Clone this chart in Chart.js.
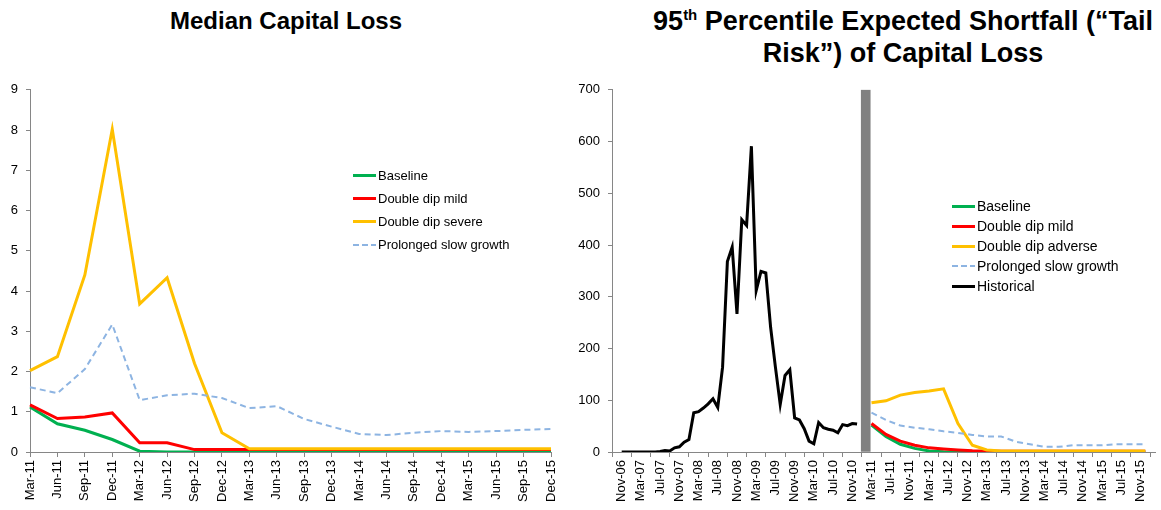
<!DOCTYPE html>
<html>
<head>
<meta charset="utf-8">
<script src="https://cdn.jsdelivr.net/npm/chart.js@4.4.1/dist/chart.umd.min.js"></script>
<style>
  body { margin: 0; background: #fff; font-family: "Liberation Sans", Arial, sans-serif; }
  #wrap { position: relative; width: 1161px; height: 510px; overflow: hidden; }
  canvas { position: absolute; top: 74px; }
  .title { position: absolute; font-weight: bold; text-align: center; color: #000; white-space: nowrap; }
  .title sup { font-size: 15px; line-height: 0; vertical-align: 10px; }
  .legend { position: absolute; color: #000; }
  .legend .row { display: flex; align-items: center; white-space: nowrap; }
  .legend .sw { display: inline-block; width: 23px; height: 3px; margin-right: 2px; }
</style>
</head>
<body>
<div id="wrap">
  <div class="title" style="left:86px; width:400px; top:5px; font-size:24px; line-height:31px;">Median Capital Loss</div>
  <div class="title" style="left:603px; width:600px; top:6px; font-size:27px; line-height:31.5px;">95<sup>th</sup> Percentile Expected Shortfall (“Tail<br>Risk”) of Capital Loss</div>
  <canvas id="left-chart" width="575" height="436" style="left:0;"></canvas>
  <canvas id="right-chart" width="586" height="436" style="left:575px;"></canvas>
  <div class="legend" id="left-legend" style="left:353px; top:164px; font-size:13px;"></div>
  <div class="legend" id="right-legend" style="left:952px; top:196px; font-size:14px;"></div>
</div>
<script>
// Left chart: median capital loss, quarterly
const quarters = ['Mar-11','Jun-11','Sep-11','Dec-11','Mar-12','Jun-12','Sep-12','Dec-12','Mar-13','Jun-13',
  'Sep-13','Dec-13','Mar-14','Jun-14','Sep-14','Dec-14','Mar-15','Jun-15','Sep-15','Dec-15'];
const medBaseline = [1.12, 0.70, 0.54, 0.31, 0.02, 0, 0, 0, 0, 0, 0, 0, 0, 0, 0, 0, 0, 0, 0, 0];
const medMild = [1.17, 0.83, 0.87, 0.97, 0.23, 0.23, 0.06, 0.06, 0.06, 0.06, 0.06, 0.06, 0.06, 0.06, 0.06, 0.06, 0.06, 0.06, 0.06, 0.06];
const medSevere = [2.02, 2.37, 4.40, 8.02, 3.68, 4.33, 2.20, 0.48, 0.08, 0.08, 0.08, 0.08, 0.08, 0.08, 0.08, 0.08, 0.08, 0.08, 0.08, 0.08];
const medSlow = [1.61, 1.46, 2.06, 3.17, 1.29, 1.41, 1.45, 1.34, 1.09, 1.14, 0.82, 0.63, 0.45, 0.42, 0.48, 0.52, 0.50, 0.52, 0.55, 0.57];

// Right chart: tail risk. Months counted from Nov-06 (0)
const monthTicks = ['Nov-06','Mar-07','Jul-07','Nov-07','Mar-08','Jul-08','Nov-08','Mar-09','Jul-09','Nov-09',
  'Mar-10','Jul-10','Nov-10','Mar-11','Jul-11','Nov-11','Mar-12','Jul-12','Nov-12','Mar-13','Jul-13','Nov-13',
  'Mar-14','Jul-14','Nov-14','Mar-15','Jul-15','Nov-15'];
const historical = [0, 0, 0, 0, 0, 0, 0, 0, 1, 3, 2, 8, 10, 19, 24, 76, 78, 85, 93, 103,
  86, 164, 368, 396, 267, 449, 438, 591, 312, 349, 346, 241, 164, 92, 148, 159, 66, 62, 45, 21,
  16, 57, 47, 44, 42, 37, 53, 51, 55, 54];
const tailBaseline = [52, 30, 15, 7, 2, 0.6, 0, 0, 0, 0, 0, 0, 0, 0, 0, 0, 0, 0, 0, 0];
const tailMild = [55, 34, 21, 13, 8, 6, 4, 2.5, 2, 1.5, 1.5, 1.5, 1.5, 1.5, 1.5, 1.5, 1.5, 1.5, 1.5, 1.5];
const tailAdverse = [95, 99, 110, 115, 118, 122, 55, 13, 4, 2, 2, 2, 2, 2, 2, 2, 2, 2, 2, 2];
const tailSlow = [76, 62, 51, 47, 44, 40, 37, 33, 30, 30, 20, 15, 10, 10, 13, 13, 13, 15, 15, 15];
const forecastStart = 52;   // Mar-11
const dividerMonth = 50.8;
const dividerHeight = 700;

const FONT = '"Liberation Sans", Arial, sans-serif';
const AXIS = '#868686';

function makeSeries(label, color, width, dashed) {
  return { label: label, color: color, width: width, dashed: dashed };
}

const leftSeries = [
  makeSeries('Baseline', '#00B050', 3, false),
  makeSeries('Double dip mild', '#FF0000', 3, false),
  makeSeries('Double dip severe', '#FFC000', 3, false),
  makeSeries('Prolonged slow growth', '#8DB4E2', 2, true)
];
const rightSeries = [
  makeSeries('Baseline', '#00B050', 3, false),
  makeSeries('Double dip mild', '#FF0000', 3, false),
  makeSeries('Double dip adverse', '#FFC000', 3, false),
  makeSeries('Prolonged slow growth', '#8DB4E2', 2, true),
  makeSeries('Historical', '#000000', 3, false)
];

function lineDataset(s, data, order) {
  return {
    label: s.label,
    data: data,
    borderColor: s.color,
    backgroundColor: s.color,
    borderWidth: s.width,
    borderDash: s.dashed ? [6, 4] : [],
    pointRadius: 0,
    tension: 0,
    fill: false,
    order: order
  };
}

function yAxis(max, step, width) {
  return {
    min: 0, max: max,
    afterFit: scale => { scale.width = width; },
    ticks: { stepSize: step, color: '#000', font: { family: FONT, size: 13 }, padding: 8 },
    grid: { display: true, drawOnChartArea: false, drawTicks: true, tickLength: 4, color: AXIS },
    border: { color: AXIS, width: 1 }
  };
}

const tickFont = { family: FONT, size: 13 };

new Chart(document.getElementById('left-chart'), {
  type: 'line',
  data: {
    labels: quarters,
    datasets: [medBaseline, medMild, medSevere, medSlow].map((d, i) => lineDataset(leftSeries[i], d, 4 - i))
  },
  options: {
    responsive: false,
    animation: false,
    layout: { padding: { top: 3, right: 24, left: 0, bottom: 0 } },
    plugins: { legend: { display: false }, title: { display: false }, tooltip: { enabled: false } },
    scales: {
      x: {
        offset: false,
        afterFit: scale => { scale.height = 58; },
        ticks: { autoSkip: false, maxRotation: 90, minRotation: 90, color: '#000', font: tickFont, padding: 3 },
        grid: { display: true, drawOnChartArea: false, offset: false, tickLength: 5, color: AXIS },
        border: { color: AXIS, width: 1 }
      },
      y: yAxis(9, 1, 30)
    }
  }
});

function toPoints(values, startMonth, stepMonths) {
  return values.map((v, i) => ({ x: startMonth + i * stepMonths, y: v }));
}

const rightDatasets = [tailBaseline, tailMild, tailAdverse, tailSlow]
  .map((d, i) => lineDataset(rightSeries[i], toPoints(d, forecastStart, 3), 6 - i));
rightDatasets.push(lineDataset(rightSeries[4], toPoints(historical, 0, 1), 2));
rightDatasets.push({
  type: 'bar',
  label: 'divider',
  data: [{ x: dividerMonth, y: dividerHeight }],
  backgroundColor: '#808080',
  borderWidth: 0,
  barThickness: 9,
  order: 1
});

new Chart(document.getElementById('right-chart'), {
  type: 'line',
  data: { datasets: rightDatasets },
  options: {
    responsive: false,
    animation: false,
    layout: { padding: { top: 3, right: 6, left: 0, bottom: 0 } },
    plugins: { legend: { display: false }, title: { display: false }, tooltip: { enabled: false } },
    scales: {
      x: {
        type: 'linear',
        min: 0, max: 109,
        afterFit: scale => { scale.height = 58; },
        afterBuildTicks: scale => { scale.ticks = monthTicks.map((t, i) => ({ value: i * 4 })); },
        ticks: {
          autoSkip: false, maxRotation: 90, minRotation: 90, color: '#000', font: tickFont, padding: 3,
          callback: v => monthTicks[v / 4]
        },
        grid: { display: true, drawOnChartArea: false, tickLength: 5, color: AXIS },
        border: { color: AXIS, width: 1 }
      },
      y: yAxis(700, 100, 37)
    }
  }
});

// HTML legends inside the plot areas
function buildLegend(el, series, rowHeight) {
  series.forEach(s => {
    const row = document.createElement('div');
    row.className = 'row';
    row.style.height = rowHeight + 'px';
    const sw = document.createElement('span');
    sw.className = 'sw';
    if (s.dashed) {
      sw.style.height = '2px';
      sw.style.background = `repeating-linear-gradient(to right, ${s.color} 0 6px, transparent 6px 9px)`;
    } else {
      sw.style.background = s.color;
    }
    row.appendChild(sw);
    row.appendChild(document.createTextNode(s.label));
    el.appendChild(row);
  });
}
buildLegend(document.getElementById('left-legend'), leftSeries, 23);
buildLegend(document.getElementById('right-legend'), rightSeries, 20);
</script>
</body>
</html>
